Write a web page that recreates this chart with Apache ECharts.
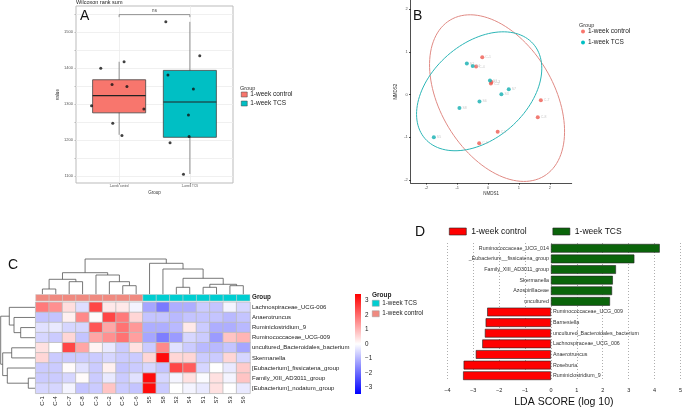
<!DOCTYPE html>
<html>
<head>
<meta charset="utf-8">
<script src="https://cdn.jsdelivr.net/npm/echarts@6/dist/echarts.min.js"></script>
<style>
html, body { margin: 0; padding: 0; background: #fff; }
#main { width: 685px; height: 409px; }
</style>
</head>
<body>
<div id="main"></div>
<script>
var FONT = '"Liberation Sans", Arial, sans-serif';
var RED = '#F8766D', TEAL = '#00BFC4';

// A - alpha diversity, box + jitter
var groups = ['1-week control', '1-week TCS'];
var boxCtrl = [1, 1214, 1275, 1323, 1367, 1417];   // x, min, q1, median, q3, max
var boxTcs = [2, 1105, 1207, 1305, 1393, 1528];
var ptsCtrl = [[0.74, 1399], [1.07, 1417], [0.90, 1354], [1.11, 1348], [0.61, 1295], [1.35, 1286], [0.91, 1246], [1.04, 1212]];
var ptsTcs = [[1.66, 1528], [2.14, 1434], [1.69, 1380], [2.05, 1341], [1.98, 1269], [1.99, 1209], [1.72, 1192], [1.91, 1104]];
var sigPair = [1, 2, 1548];
var aTicks = [1100, 1200, 1300, 1400, 1500];
var aGrid = [1100, 1150, 1200, 1250, 1300, 1350, 1400, 1450, 1500, 1550];

// B - NMDS
var nmdsCtrl = [[-0.19, 0.88], [-0.39, 0.66], [0.11, 0.30], [0.09, 0.26], [1.71, -0.13], [1.61, -0.53], [0.31, -0.87], [-0.29, -1.14]];
var nmdsTcs = [[-0.69, 0.73], [-0.50, 0.67], [0.06, 0.33], [0.67, 0.13], [0.43, 0.01], [-0.28, -0.16], [-0.93, -0.31], [-1.76, -1.00]];
var idsCtrl = ['C-1', 'C-4', 'C-3', 'C-2', 'C-7', 'C-8', 'C-5', 'C-6'];
var idsTcs = ['S2', 'S4', 'S1', 'S7', 'S3', 'S6', 'S8', 'S5'];
// center x, center y, semi-axis u (x, y), semi-axis v (x, y)
var ellCtrl = [0.29, -0.08, 1.52, -1.83, 1.575, 0.683];
var ellTcs = [-0.29, 0.08, 1.753, 1.112, -1.024, 0.841];
var nmdsTicks = [-2, -1, 0, 1, 2];

// C - heatmap
var hmCols = ['C-1', 'C-4', 'C-7', 'C-8', 'C-3', 'C-2', 'C-5', 'C-6', 'S5', 'S8', 'S2', 'S4', 'S1', 'S7', 'S3', 'S6'];
var hmGroup = [0, 0, 0, 0, 0, 0, 0, 0, 1, 1, 1, 1, 1, 1, 1, 1];
var hmRows = ['Lachnospiraceae_UCG-006', 'Anaerotruncus', 'Ruminiclostridium_9', 'Ruminococcaceae_UCG-009',
  'uncultured_Bacteroidales_bacterium', 'Skermanella', '[Eubacterium]_fissicatena_group',
  'Family_XIII_AD3011_group', '[Eubacterium]_nodatum_group'];
var hmValues = [
  [1.8, 1.5, 0.45, -0.45, 2.5, 0.3, 0.3, -0.15, -1.2, -1.8, -1.1, -1.1, -0.7, -0.8, -0.15, -0.55],
  [-0.8, -0.8, 0.2, 1.6, 0.05, 2.5, 1.8, 0.55, -0.8, -0.8, -0.95, -0.8, -0.8, -0.8, -0.95, -0.8],
  [-0.4, -0.3, -0.55, -0.55, 2.3, 1.2, 1.9, 1.4, -1.1, -1.1, -0.95, 0.3, -0.7, -1.1, -1.1, -0.95],
  [-0.55, -0.7, 0.55, -0.8, 1.2, 1.5, 1.9, 1.3, -1.2, -1.75, -1.35, -0.55, -0.7, -1.35, 0.8, 1.0],
  [0.4, 0.0, 2.5, 1.2, 0.15, -0.3, -0.7, 0.4, -0.7, 1.6, -0.4, -0.7, -0.95, -0.95, -0.8, -1.2],
  [0.55, -0.7, -0.7, -0.7, -0.7, -0.55, -0.7, -0.7, 0.55, 3.3, 0.55, 0.55, -0.7, -0.7, 0.55, -0.55],
  [-0.7, -0.7, 0.05, -0.4, -0.7, 0.2, -0.8, -0.7, -0.55, -0.8, 2.5, 2.2, -0.55, 0.0, -0.3, 0.7],
  [-0.7, -0.7, -0.55, 0.05, -0.7, -0.3, -0.7, -0.4, 3.3, -0.55, -0.15, 0.4, -0.05, 0.4, -0.15, 0.8],
  [-0.55, -0.55, -0.15, -0.8, -0.7, 0.8, -0.7, -0.8, 3.3, -0.7, 0.0, -0.15, -0.3, 0.4, 0.0, -0.3]
];
// hclust style merges: negative = leaf (1-based), positive = earlier merge
var colMerge = [[-1, -2, 5.3], [-3, -4, 12.6], [1, 2, 15], [-7, -8, 8.6], [-6, 4, 12.6], [-5, 5, 19.3], [3, 6, 21.6],
  [-11, -12, 7], [-13, -14, 7], [-15, -16, 8.6], [9, 10, 10], [8, 11, 16], [-10, 12, 25.3], [-9, 13, 31], [7, 14, 35.3]];
var rowMerge = [[-3, -4, 14.3], [-2, 1, 21], [-1, 2, 25.7], [-5, -6, 23.3], [-8, -9, 6.7], [-7, 5, 27.7], [4, 6, 32.3], [3, 7, 34.3]];
var cbTicks = [-3, -2, -1, 0, 1, 2, 3];

// D - LEfSe
var ldaNames = ['Ruminococcaceae_UCG_014', '_Eubacterium__fissicatena_group', 'Family_XIII_AD3011_group', 'Skermanella',
  'Azospirillaceae', 'uncultured', 'Ruminococcaceae_UCG_009', 'Barnesiella', 'uncultured_Bacteroidales_bacterium',
  'Lachnospiraceae_UCG_006', 'Anaerotruncus', 'Roseburia', 'Ruminiclostridium_9'];
var ldaScores = [4.2, 3.22, 2.51, 2.39, 2.36, 2.28, -2.46, -2.52, -2.55, -2.65, -2.90, -3.37, -3.39];

var hmData = [];
hmValues.forEach(function (row, r) {
  row.forEach(function (v, c) { hmData.push([c, r, v]); });
});

function renderBox(params, api) {
  var x = api.value(0), w = 0.375;
  var pMin = api.coord([x, api.value(1)]), pMax = api.coord([x, api.value(5)]);
  var pQ1 = api.coord([x - w, api.value(2)]), pQ3 = api.coord([x + w, api.value(4)]);
  var mL = api.coord([x - w, api.value(3)]), mR = api.coord([x + w, api.value(3)]);
  return {type: 'group', children: [
    {type: 'line', shape: {x1: pMin[0], y1: pMin[1], x2: pMax[0], y2: pMax[1]}, style: {stroke: '#777', lineWidth: 0.8}},
    {type: 'rect', shape: {x: pQ1[0], y: pQ3[1], width: pQ3[0] - pQ1[0], height: pQ1[1] - pQ3[1]},
      style: {fill: api.visual('color'), stroke: '#444', lineWidth: 0.8}},
    {type: 'line', shape: {x1: mL[0], y1: mL[1], x2: mR[0], y2: mR[1]}, style: {stroke: '#222', lineWidth: 1.1}}
  ]};
}

function renderSig(params, api) {
  var a = api.coord([api.value(0), api.value(2)]);
  var b = api.coord([api.value(1), api.value(2)]);
  var drop = api.coord([api.value(0), api.value(2) - 7])[1];
  return {type: 'group', children: [
    {type: 'polyline', shape: {points: [[a[0], drop], a, b, [b[0], drop]]}, style: {stroke: '#777', lineWidth: 0.8, fill: null}},
    {type: 'text', style: {text: 'ns', x: (a[0] + b[0]) / 2, y: a[1] - 1, align: 'center', verticalAlign: 'bottom', fontSize: 4.5, fill: '#444', fontFamily: FONT}}
  ]};
}

function renderEllipse(params, api) {
  var e = [0, 1, 2, 3, 4, 5].map(function (i) { return api.value(i); });
  var pts = [];
  for (var i = 0; i <= 120; i++) {
    var t = i / 120 * 2 * Math.PI;
    pts.push(api.coord([e[0] + Math.cos(t) * e[2] + Math.sin(t) * e[4], e[1] + Math.cos(t) * e[3] + Math.sin(t) * e[5]]));
  }
  return {type: 'polyline', shape: {points: pts}, style: {stroke: api.visual('color'), lineWidth: 1, fill: null}};
}

function dendro(merge, horizontal) {
  return function (params, api) {
    var pos = [], hgt = [], kids = [];
    merge.forEach(function (m, i) {
      var pa = m[0] < 0 ? -m[0] - 1 : pos[m[0] - 1], ha = m[0] < 0 ? 0 : hgt[m[0] - 1];
      var pb = m[1] < 0 ? -m[1] - 1 : pos[m[1] - 1], hb = m[1] < 0 ? 0 : hgt[m[1] - 1];
      pos[i] = (pa + pb) / 2; hgt[i] = m[2];
      var pts = [[pa, ha], [pa, m[2]], [pb, m[2]], [pb, hb]].map(function (p) {
        return api.coord(horizontal ? [p[1], p[0]] : p);
      });
      kids.push({type: 'polyline', shape: {points: pts}, style: {stroke: '#555', lineWidth: 0.8, fill: null}});
    });
    return {type: 'group', children: kids};
  };
}

function renderAnnot(params, api) {
  var c = api.coord([api.value(0), 0]), s = api.size([1, 1]);
  return {type: 'rect', shape: {x: c[0] - s[0] / 2, y: c[1] - s[1] / 2, width: s[0], height: s[1]},
    style: {fill: api.value(1) ? '#00CED1' : '#F08A80', stroke: '#c8c8c8', lineWidth: 0.5}};
}

function renderColorbar(params, api) {
  var t = api.coord([0, 3.45]), b = api.coord([1, -3.45]);
  return {type: 'rect', shape: {x: t[0], y: t[1], width: b[0] - t[0], height: b[1] - t[1]},
    style: {fill: {type: 'linear', x: 0, y: 0, x2: 0, y2: 1, colorStops: [
      {offset: 0, color: '#ff0000'}, {offset: 0.5, color: '#ffffff'}, {offset: 1, color: '#0000ff'}]}}};
}

function hidden(extra) {
  return Object.assign({show: false}, extra);
}

var tinyLbl = {fontSize: 4, color: '#555', fontFamily: FONT};
var minus = function (v) { return String(v).replace('-', '\u2212'); };
var plain = function (v) { return String(v); };

var option = {
  animation: false,
  textStyle: {fontFamily: FONT},
  title: [
    {text: 'Wilcoxon rank sum', left: 76, top: -1, padding: 0, textStyle: {fontSize: 5.5, fontWeight: 'normal', color: '#222'}},
    {text: 'A', left: 80, top: 9, padding: 0, textStyle: {fontSize: 14, fontWeight: 'normal', color: '#111'}},
    {text: 'B', left: 413, top: 9, padding: 0, textStyle: {fontSize: 14, fontWeight: 'normal', color: '#111'}},
    {text: 'C', left: 8, top: 258, padding: 0, textStyle: {fontSize: 14, fontWeight: 'normal', color: '#111'}},
    {text: 'D', left: 415, top: 225, padding: 0, textStyle: {fontSize: 14, fontWeight: 'normal', color: '#111'}},
    {text: 'Group', left: 240, top: 85, padding: 0, textStyle: {fontSize: 5.5, fontWeight: 'normal', color: '#333'}},
    {text: 'Group', left: 579, top: 22, padding: 0, textStyle: {fontSize: 5.5, fontWeight: 'normal', color: '#333'}},
    {text: 'Group', left: 372, top: 292, padding: 0, textStyle: {fontSize: 6.5, fontWeight: 'bold', color: '#222'}}
  ],
  legend: [
    {left: 241, top: 91, orient: 'vertical', selectedMode: false, itemWidth: 6, itemHeight: 5, itemGap: 2, padding: 0,
      textStyle: {fontSize: 6.5, color: '#222', padding: [0, 0, 0, -2]},
      data: [{name: groups[0], icon: 'rect', itemStyle: {color: RED, borderColor: '#444', borderWidth: 0.5}},
        {name: groups[1], icon: 'rect', itemStyle: {color: TEAL, borderColor: '#444', borderWidth: 0.5}}]},
    {left: 581, top: 28, orient: 'vertical', selectedMode: false, itemWidth: 4, itemHeight: 4, itemGap: 4, padding: 0,
      textStyle: {fontSize: 6.5, color: '#222', padding: [0, 0, 0, -2]},
      data: [{name: groups[0], icon: 'circle', itemStyle: {color: RED, borderWidth: 0}},
        {name: groups[1], icon: 'circle', itemStyle: {color: TEAL, borderWidth: 0}}]},
    {left: 372, top: 300, orient: 'vertical', selectedMode: false, itemWidth: 7, itemHeight: 6, itemGap: 4, padding: 0,
      textStyle: {fontSize: 6.3, color: '#222', padding: [0, 0, 0, -2]},
      data: [{name: groups[1], icon: 'rect', itemStyle: {color: '#00CED1', borderColor: '#999', borderWidth: 0.5}},
        {name: groups[0], icon: 'rect', itemStyle: {color: '#F08A80', borderColor: '#999', borderWidth: 0.5}}]},
    {left: 449, top: 227, orient: 'horizontal', selectedMode: false, itemWidth: 17, itemHeight: 7, itemGap: 26, padding: 0,
      textStyle: {fontSize: 8.5, color: '#111'},
      data: [{name: groups[0], icon: 'rect', itemStyle: {color: '#ff0000', borderColor: '#222', borderWidth: 0.6}},
        {name: groups[1], icon: 'rect', itemStyle: {color: '#0a640a', borderColor: '#222', borderWidth: 0.6}}]}
  ],
  grid: [
    {left: 76, top: 6, width: 157, height: 177, show: true, borderColor: '#bbb', borderWidth: 1},
    {left: 410.7, top: 0, width: 161, height: 183},
    {left: 35.7, top: 259, width: 214.3, height: 35.3},
    {left: 0, top: 302.3, width: 35, height: 91},
    {left: 35.7, top: 294.5, width: 214.3, height: 6.5},
    {left: 35.7, top: 302.3, width: 214.3, height: 91},
    {left: 355, top: 294, width: 6, height: 100},
    {left: 447.3, top: 243, width: 236, height: 138.7}
  ],
  xAxis: [
    {gridIndex: 0, type: 'value', min: 0.39, max: 2.61, name: 'Group', nameLocation: 'middle', nameGap: 7,
      nameTextStyle: {fontSize: 4.5, color: '#333'},
      axisLine: {show: false}, axisTick: {show: true, length: 1.5, customValues: [1, 2], lineStyle: {color: '#888'}},
      axisLabel: Object.assign({customValues: [1, 2], margin: 2, formatter: function (v) { return groups[v - 1]; }}, tinyLbl, {fontSize: 3}),
      splitLine: {show: true, lineStyle: {color: '#ececec', width: 0.8}}},
    {gridIndex: 1, type: 'value', min: -2.51, max: 2.71, name: 'NMDS1', nameLocation: 'middle', nameGap: 8,
      nameTextStyle: {fontSize: 4.5, color: '#333'},
      axisLine: {show: true, onZero: false, lineStyle: {color: '#222', width: 0.8}},
      axisTick: {show: true, length: 1.5, customValues: nmdsTicks, lineStyle: {color: '#222'}},
      axisLabel: Object.assign({customValues: nmdsTicks, margin: 3}, tinyLbl), splitLine: {show: false}},
    hidden({gridIndex: 2, type: 'value', min: -0.5, max: 15.5}),
    hidden({gridIndex: 3, type: 'value', min: 0, max: 35, inverse: true}),
    {gridIndex: 4, type: 'category', data: hmCols, show: false},
    {gridIndex: 5, type: 'category', data: hmCols, axisLine: {show: false}, axisTick: {show: false},
      axisLabel: {rotate: 90, fontSize: 5.8, margin: 3, color: '#222', interval: 0}},
    hidden({gridIndex: 6, type: 'value', min: 0, max: 1}),
    {gridIndex: 7, type: 'value', min: -4, max: 5, interval: 1, name: 'LDA SCORE (log 10)', nameLocation: 'middle', nameGap: 16,
      nameTextStyle: {fontSize: 10.5, color: '#111'},
      axisLine: {show: false}, axisTick: {show: false},
      axisLabel: {fontSize: 5.5, color: '#222', margin: 6, formatter: minus},
      splitLine: {show: true, lineStyle: {color: '#999', type: [1, 2], width: 0.8}}}
  ],
  yAxis: [
    {gridIndex: 0, type: 'value', min: 1080, max: 1572, name: 'value', nameLocation: 'middle', nameGap: 15,
      nameTextStyle: {fontSize: 4.5, color: '#333'},
      axisLine: {show: false}, axisTick: {show: true, length: 1.5, customValues: aGrid, lineStyle: {color: '#bbb'}},
      axisLabel: Object.assign({customValues: aTicks, margin: 3, formatter: plain}, tinyLbl),
      splitLine: {show: true, lineStyle: {color: '#ececec', width: 0.8}}},
    {gridIndex: 1, type: 'value', min: -2.07, max: 2.22, name: 'NMDS2', nameLocation: 'middle', nameGap: 12,
      nameTextStyle: {fontSize: 4.5, color: '#333'},
      axisLine: {show: true, onZero: false, lineStyle: {color: '#222', width: 0.8}},
      axisTick: {show: true, length: 1.5, customValues: nmdsTicks, lineStyle: {color: '#222'}},
      axisLabel: Object.assign({customValues: nmdsTicks, margin: 3}, tinyLbl), splitLine: {show: false}},
    hidden({gridIndex: 2, type: 'value', min: 0, max: 35.3}),
    hidden({gridIndex: 3, type: 'value', min: -0.5, max: 8.5, inverse: true}),
    {gridIndex: 4, type: 'category', data: ['Group'], position: 'right', axisLine: {show: false}, axisTick: {show: false},
      axisLabel: {fontSize: 6.3, fontWeight: 'bold', color: '#222', margin: 2}},
    {gridIndex: 5, type: 'category', data: hmRows, inverse: true, position: 'right', axisLine: {show: false}, axisTick: {show: false},
      axisLabel: {fontSize: 6, color: '#222', margin: 2, interval: 0}},
    {gridIndex: 6, type: 'value', min: -3.45, max: 3.45, position: 'right', axisLine: {show: false}, axisTick: {show: false},
      axisLabel: {customValues: cbTicks, fontSize: 6.3, color: '#222', margin: 4, formatter: minus}, splitLine: {show: false}},
    {gridIndex: 7, type: 'category', data: ldaNames, inverse: true, show: false}
  ],
  visualMap: {type: 'continuous', show: false, seriesIndex: 11, dimension: 2, min: -3.45, max: 3.45,
    inRange: {color: ['#0000ff', '#ffffff', '#ff0000']}},
  series: [
    {name: groups[0], type: 'custom', xAxisIndex: 0, yAxisIndex: 0, renderItem: renderBox, itemStyle: {color: RED},
      encode: {x: 0, y: [1, 2, 3, 4, 5]}, data: [boxCtrl]},
    {name: groups[1], type: 'custom', xAxisIndex: 0, yAxisIndex: 0, renderItem: renderBox, itemStyle: {color: TEAL},
      encode: {x: 0, y: [1, 2, 3, 4, 5]}, data: [boxTcs]},
    {name: 'jitter', type: 'scatter', xAxisIndex: 0, yAxisIndex: 0, symbolSize: 3, itemStyle: {color: '#111'},
      data: ptsCtrl.concat(ptsTcs)},
    {name: 'sig', type: 'custom', xAxisIndex: 0, yAxisIndex: 0, renderItem: renderSig, data: [sigPair]},
    {name: 'ellCtrl', type: 'custom', xAxisIndex: 1, yAxisIndex: 1, renderItem: renderEllipse, itemStyle: {color: '#E08A84'},
      clip: false, data: [ellCtrl]},
    {name: 'ellTcs', type: 'custom', xAxisIndex: 1, yAxisIndex: 1, renderItem: renderEllipse, itemStyle: {color: '#2BB5B6'},
      clip: false, data: [ellTcs]},
    {name: 'nmdsCtrl', type: 'scatter', xAxisIndex: 1, yAxisIndex: 1, symbolSize: 4, itemStyle: {color: '#EE5A50'},
      label: {show: true, position: 'right', distance: 1, fontSize: 3.5, color: '#bbb', formatter: function (p) { return idsCtrl[p.dataIndex]; }},
      data: nmdsCtrl},
    {name: 'nmdsTcs', type: 'scatter', xAxisIndex: 1, yAxisIndex: 1, symbolSize: 4, itemStyle: {color: '#10AEB0'},
      label: {show: true, position: 'right', distance: 1, fontSize: 3.5, color: '#bbb', formatter: function (p) { return idsTcs[p.dataIndex]; }},
      data: nmdsTcs},
    {name: 'colTree', type: 'custom', xAxisIndex: 2, yAxisIndex: 2, renderItem: dendro(colMerge, false), clip: false, data: [[0, 0]]},
    {name: 'rowTree', type: 'custom', xAxisIndex: 3, yAxisIndex: 3, renderItem: dendro(rowMerge, true), clip: false, data: [[0, 0]]},
    {name: 'annot', type: 'custom', xAxisIndex: 4, yAxisIndex: 4, renderItem: renderAnnot,
      data: hmGroup.map(function (g, i) { return [i, g]; })},
    {name: 'heat', type: 'heatmap', xAxisIndex: 5, yAxisIndex: 5, data: hmData,
      itemStyle: {borderColor: '#bdbdbd', borderWidth: 0.8}, emphasis: {disabled: true}},
    {name: 'colorbar', type: 'custom', xAxisIndex: 6, yAxisIndex: 6, renderItem: renderColorbar, clip: false, data: [[0, 0]]},
    {name: 'ldaTcs', type: 'bar', xAxisIndex: 7, yAxisIndex: 7, barWidth: 8.7, barGap: '-100%',
      itemStyle: {color: '#0a640a', borderColor: '#222', borderWidth: 0.6},
      label: {show: true, position: 'left', distance: 2, fontSize: 5.3, color: '#333', formatter: '{b}'},
      data: ldaScores.map(function (v) { return v > 0 ? v : '-'; })},
    {name: 'ldaCtrl', type: 'bar', xAxisIndex: 7, yAxisIndex: 7, barWidth: 8.7, barGap: '-100%',
      itemStyle: {color: '#ff0000', borderColor: '#222', borderWidth: 0.6},
      label: {show: true, position: 'right', distance: 2, fontSize: 5.3, color: '#333', formatter: '{b}'},
      data: ldaScores.map(function (v) { return v < 0 ? v : '-'; })}
  ]
};

var chart = echarts.init(document.getElementById('main'));
chart.setOption(option);
</script>
</body>
</html>
